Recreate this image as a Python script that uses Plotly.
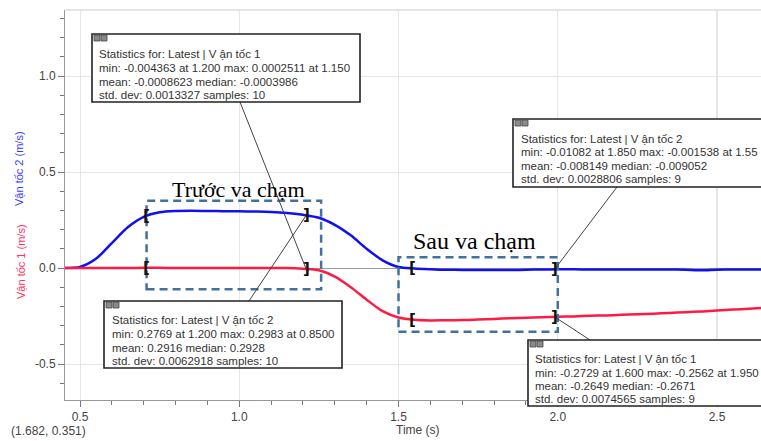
import numpy as np
import plotly.graph_objects as go

# ---------------- data ----------------
time = [0.45, 0.50, 0.55, 0.60, 0.65, 0.70, 0.75, 0.80, 0.85, 0.90, 0.95,
        1.00, 1.05, 1.10, 1.15, 1.20, 1.25, 1.30, 1.35, 1.40, 1.45, 1.50,
        1.55, 1.60, 1.65, 1.70, 1.75, 1.80, 1.85, 1.90, 1.95, 2.00, 2.05,
        2.10, 2.15, 2.20, 2.25, 2.30, 2.35, 2.40, 2.45, 2.50, 2.55, 2.60, 2.65]
van_toc_2 = [0.000, 0.006, 0.048, 0.130, 0.212, 0.266, 0.290, 0.297, 0.298, 0.297, 0.296,
             0.295, 0.294, 0.292, 0.287, 0.277, 0.262, 0.225, 0.170, 0.100, 0.040, 0.005,
             -0.002, -0.006, -0.009, -0.010, -0.010, -0.010, -0.011, -0.009, -0.008, -0.007, -0.007,
             -0.008, -0.008, -0.008, -0.008, -0.008, -0.008, -0.009, -0.012, -0.009, -0.008, -0.008, -0.008]
van_toc_1 = [0.000, 0.000, 0.000, 0.000, 0.000, 0.001, 0.001, 0.000, 0.000, 0.000, 0.000,
             0.000, 0.000, 0.000, 0.000, -0.004, -0.012, -0.045, -0.100, -0.165, -0.225, -0.258,
             -0.270, -0.273, -0.272, -0.271, -0.268, -0.265, -0.262, -0.259, -0.256, -0.254, -0.252,
             -0.249, -0.247, -0.244, -0.241, -0.238, -0.234, -0.230, -0.226, -0.222, -0.216, -0.212, -0.208]

x_ticks = [0.5, 1.0, 1.5, 2.0, 2.5]
x_tick_labels = ["0.5", "1.0", "1.5", "2.0", "2.5"]
y_ticks = [-0.5, 0.0, 0.5, 1.0]
y_tick_labels = ["-0.5", "0.0", "0.5", "1.0"]

region_before = [0.71, 1.21]
region_after = [1.545, 1.99]

stats_top = ["Statistics for: Latest | V ận tốc 1",
             "min: -0.004363 at 1.200 max: 0.0002511 at 1.150",
             "mean: -0.0008623 median: -0.0003986",
             "std. dev: 0.0013327 samples: 10"]
stats_mid = ["Statistics for: Latest | V ận tốc 2",
             "min: 0.2769 at 1.200 max: 0.2983 at 0.8500",
             "mean: 0.2916 median: 0.2928",
             "std. dev: 0.0062918 samples: 10"]
stats_right = ["Statistics for: Latest | V ận tốc 2",
               "min: -0.01082 at 1.850 max: -0.001538 at 1.55",
               "mean: -0.008149 median: -0.009052",
               "std. dev: 0.0028806 samples: 9"]
stats_bottom = ["Statistics for: Latest | V ận tốc 1",
                "min: -0.2729 at 1.600 max: -0.2562 at 1.950",
                "mean: -0.2649 median: -0.2671",
                "std. dev: 0.0074565 samples: 9"]

# ---------------- layout geometry ----------------
W, H = 761, 441
ML, MR, MT, MB = 65, 0, 10, 41
X_RANGE = [0.4529, 2.638]
Y_RANGE = [-0.6875, 1.34375]
PW = W - ML - MR
PH = H - MT - MB


def PX(px):
    return (px - ML) / PW


def PY(py):
    return (H - MB - py) / PH


def DX(x):
    return (x - X_RANGE[0]) / (X_RANGE[1] - X_RANGE[0])


def DY(y):
    return (y - Y_RANGE[0]) / (Y_RANGE[1] - Y_RANGE[0])


BLUE = "#1010f0"
RED = "#ff1a45"
BOX_BLUE = "#41719c"
TXT = "#333333"
SANS = "Liberation Sans"

fig = go.Figure()
fig.add_trace(go.Scatter(x=time, y=van_toc_2, mode="lines",
                         line=dict(color=BLUE, width=2.5, shape="spline", smoothing=0.8),
                         hoverinfo="skip"))
fig.add_trace(go.Scatter(x=time, y=van_toc_1, mode="lines",
                         line=dict(color=RED, width=2.5, shape="spline", smoothing=0.8),
                         hoverinfo="skip"))

shapes = []
annotations = []

# top frame line and darker cursor line at 2.5
shapes.append(dict(type="line", xref="paper", yref="paper", x0=0, x1=1, y0=1, y1=1,
                   line=dict(color="#dcdcdc", width=1.5)))
shapes.append(dict(type="line", xref="x", yref="paper", x0=2.5, x1=2.5, y0=0, y1=1,
                   line=dict(color="#cfcfcf", width=1.2), layer="below"))

# dashed region boxes
shapes.append(dict(type="rect", xref="x", yref="y", x0=0.709, x1=1.257, y0=-0.111, y1=0.35,
                   line=dict(color=BOX_BLUE, width=2.5, dash="8px,5px")))
shapes.append(dict(type="rect", xref="x", yref="y", x0=1.50, x1=2.0, y0=-0.332, y1=0.056,
                   line=dict(color=BOX_BLUE, width=2.5, dash="8px,5px")))

# brackets
brackets = {}
for (xs, xe) in [region_before, region_after]:
    for series, key in [(van_toc_2, "b"), (van_toc_1, "r")]:
        ys = float(np.interp(xs, time, series))
        ye = float(np.interp(xe, time, series))
        brackets[(key, xs)] = ys
        brackets[(key, xe)] = ye
        annotations.append(dict(x=xs, y=ys, xref="x", yref="y", text="<b>[</b>", showarrow=False,
                                font=dict(family="DejaVu Sans", size=15, color="#111"),
                                xanchor="center", yanchor="middle"))
        annotations.append(dict(x=xe, y=ye, xref="x", yref="y", text="<b>]</b>", showarrow=False,
                                font=dict(family="DejaVu Sans", size=15, color="#111"),
                                xanchor="center", yanchor="middle"))

# region labels
annotations.append(dict(x=PX(238.5), y=PY(189), xref="paper", yref="paper",
                        text="Trước va chạm", showarrow=False,
                        font=dict(family="Liberation Serif", size=22, color="#000"),
                        xanchor="center", yanchor="middle"))
annotations.append(dict(x=PX(474.5), y=PY(241), xref="paper", yref="paper",
                        text="Sau va chạm", showarrow=False,
                        font=dict(family="Liberation Serif", size=24, color="#000"),
                        xanchor="center", yanchor="middle"))


def stat_box(lines, left, top, right, bottom, text_left, line_ys, anchor_px, target):
    # connector
    tx, ty = target
    shapes.append(dict(type="line", xref="paper", yref="paper",
                       x0=PX(anchor_px[0]), y0=PY(anchor_px[1]), x1=DX(tx), y1=DY(ty),
                       line=dict(color="#444", width=1)))
    shapes.append(dict(type="rect", xref="paper", yref="paper",
                       x0=PX(left), x1=PX(right), y0=PY(bottom), y1=PY(top),
                       fillcolor="white", line=dict(color="#222", width=1.6)))
    for i in range(2):
        shapes.append(dict(type="rect", xref="paper", yref="paper",
                           x0=PX(left + 2 + 7 * i), x1=PX(left + 8 + 7 * i),
                           y0=PY(top + 7), y1=PY(top + 1),
                           fillcolor="#8a8a8a", line=dict(color="#444", width=0.8)))
    for txt, yy in zip(lines, line_ys):
        annotations.append(dict(x=PX(text_left), y=PY(yy), xref="paper", yref="paper",
                                text=txt, showarrow=False,
                                font=dict(family=SANS, size=11.5, color=TXT),
                                xanchor="left", yanchor="middle"))


stat_box(stats_top, 92, 34, 360, 102, 97, [54, 68, 82, 95], (240, 102),
         (region_before[1], brackets[("r", region_before[1])]))
stat_box(stats_mid, 104, 301, 342, 368, 110, [320, 334, 347.5, 361], (249, 301),
         (region_before[1], brackets[("b", region_before[1])]))
stat_box(stats_right, 513, 119, 800, 187, 519, [139, 152, 165.5, 179], (617, 187),
         (region_after[1], brackets[("b", region_after[1])]))
stat_box(stats_bottom, 528, 340, 800, 406, 533, [359, 372.5, 386, 398.5], (590, 340),
         (region_after[1], brackets[("r", region_after[1])]))

# axis titles
annotations.append(dict(x=PX(19), y=PY(169), xref="paper", yref="paper",
                        text="Vận tốc 2 (m/s)", showarrow=False, textangle=-90,
                        font=dict(family=SANS, size=11, color="#3a3aff"),
                        xanchor="center", yanchor="middle"))
annotations.append(dict(x=PX(21), y=PY(261), xref="paper", yref="paper",
                        text="Vận tốc 1 (m/s)", showarrow=False, textangle=-90,
                        font=dict(family=SANS, size=11, color="#ff3060"),
                        xanchor="center", yanchor="middle"))
annotations.append(dict(x=PX(418), y=PY(430), xref="paper", yref="paper",
                        text="Time (s)", showarrow=False,
                        font=dict(family=SANS, size=12, color="#444"),
                        xanchor="center", yanchor="middle"))
annotations.append(dict(x=PX(48), y=PY(431), xref="paper", yref="paper",
                        text="(1.682, 0.351)", showarrow=False,
                        font=dict(family=SANS, size=12, color="#444"),
                        xanchor="center", yanchor="middle"))

fig.update_layout(
    width=W, height=H,
    margin=dict(l=ML, r=MR, t=MT, b=MB, pad=0),
    paper_bgcolor="white", plot_bgcolor="white",
    showlegend=False,
    shapes=shapes, annotations=annotations,
    font=dict(family=SANS, size=12, color="#444"),
    xaxis=dict(range=X_RANGE, tickmode="array", tickvals=x_ticks, ticktext=x_tick_labels,
               ticks="outside", ticklen=6, tickcolor="#777", tickwidth=1,
               showline=True, linecolor="#999", linewidth=1,
               showgrid=True, gridcolor="#e6e6e6", gridwidth=1, zeroline=False,
               tickfont=dict(family=SANS, size=12, color="#444"),
               minor=dict(tickmode="linear", tick0=0, dtick=0.1, ticks="outside",
                          ticklen=4, tickcolor="#777", showgrid=False)),
    yaxis=dict(range=Y_RANGE, tickmode="array", tickvals=y_ticks, ticktext=y_tick_labels,
               ticks="outside", ticklen=6, tickcolor="#777", tickwidth=1,
               showline=True, linecolor="#999", linewidth=1,
               showgrid=True, gridcolor="#e6e6e6", gridwidth=1,
               zeroline=True, zerolinecolor="#9a9a9a", zerolinewidth=1,
               tickfont=dict(family=SANS, size=12, color="#444"),
               minor=dict(tickmode="linear", tick0=0, dtick=0.1, ticks="outside",
                          ticklen=4, tickcolor="#777", showgrid=False)),
)

fig.write_html("out.html",
               config={"displayModeBar": False},
               post_script="document.body.style.margin='0';document.body.style.overflow='hidden';")
